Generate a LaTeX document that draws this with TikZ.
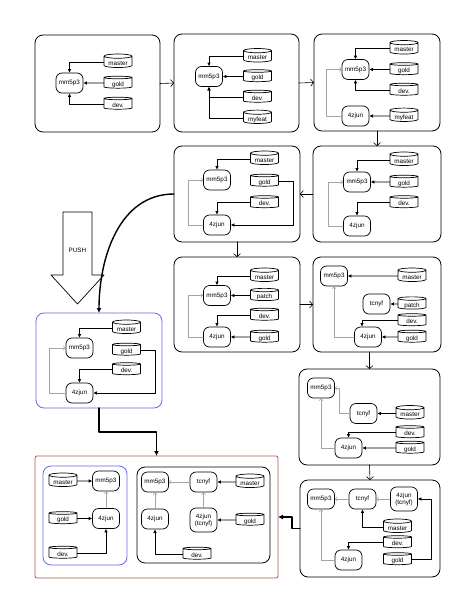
\documentclass[tikz,border=0pt]{standalone}
\usepackage{fontspec}
\setmainfont{Liberation Sans}
\usetikzlibrary{arrows.meta, shapes.geometric, fit}
\definecolor{azul}{RGB}{102,102,230}
\definecolor{rojo}{RGB}{184,84,80}
\definecolor{gris}{RGB}{165,165,165}
\begin{document}
\begin{tikzpicture}[x=1pt, y=-1pt, line cap=round, line join=round,
    font=\fontsize{6.3}{7.2}\selectfont,
    panel/.style={draw, rounded corners=8pt, line width=0.8pt, inner sep=0pt, outer sep=0pt},
    commit/.style={draw, rounded corners=6pt, minimum width=27pt, minimum height=20pt,
      inner sep=1pt, line width=0.7pt, align=center},
    rama/.style={draw, cylinder, shape border rotate=90, aspect=0.22, minimum width=28pt,
      minimum height=12pt, inner sep=0pt, text height=6.8pt, text depth=0pt, line width=0.7pt},
    flecha/.style={line width=0.8pt, -{Latex[length=3.5pt,width=3.5pt]}},
    padre/.style={gris, line width=0.6pt, -{Straight Barb[length=2pt,width=4pt]}},
    paso/.style={line width=0.6pt, -{Straight Barb[length=3pt,width=7pt]}},
    empuje/.style={line width=1.4pt, -{Latex[length=5pt,width=5pt]}}]
  \useasboundingbox (0,0) rectangle (474,613);
  % primer paso
  \node[panel, fit={(35,35) (160,132)}] (p1) {};
  \node[commit] (mm1) at (69.5,83) {mm5p3};
  \node[rama] (ma1) at (118,62) {master};
  \node[rama] (go1) at (118,83) {gold};
  \node[rama] (de1) at (118,104) {dev.};
  \draw[flecha] (ma1.west) -| (mm1.north);
  \draw[flecha] (go1.west) -- (mm1.east);
  \draw[flecha] (de1.west) -| (mm1.south);
  % con myfeat
  \node[panel, fit={(174,34) (299,132)}] (p2) {};
  \node[commit] (mm2) at (209,76.5) {mm5p3};
  \node[rama] (ma2) at (257.5,56.5) {master};
  \node[rama] (go2) at (257.5,76.5) {gold};
  \node[rama] (de2) at (257.5,97) {dev.};
  \node[rama] (my2) at (257.5,118) {myfeat};
  \draw[flecha] (ma2.west) -| (mm2.north);
  \draw[flecha] (go2.west) -- (mm2.east);
  \draw[flecha] (de2.west) -| (mm2.south);
  \draw[flecha] (my2.west) -| (mm2.south);
  % el commit 4zjun en myfeat
  \node[panel, fit={(314,34) (440,131)}] (p3) {};
  \node[commit] (mm3) at (355.5,69.5) {mm5p3};
  \node[commit] (zj3) at (355.5,116) {4zjun};
  \node[rama] (ma3) at (404,48.5) {master};
  \node[rama] (go3) at (404,69.5) {gold};
  \node[rama] (de3) at (404,90) {dev.};
  \node[rama] (my3) at (404,116) {myfeat};
  \draw[flecha] (ma3.west) -| (mm3.north);
  \draw[flecha] (go3.west) -- (mm3.east);
  \draw[flecha] (de3.west) -| (mm3.south);
  \draw[flecha] (my3.west) -- (zj3.east);
  \draw[padre] (zj3.west) -- ++(-15,0) |- (mm3.west);
  % dev. pasa a 4zjun
  \node[panel, fit={(313,146) (441,242)}] (p4) {};
  \node[commit] (mm4) at (357,182) {mm5p3};
  \node[commit] (zj4) at (357,226) {4zjun};
  \node[rama] (ma4) at (404,160) {master};
  \node[rama] (go4) at (404,182) {gold};
  \node[rama] (de4) at (404,202.5) {dev.};
  \draw[flecha] (ma4.west) -| (mm4.north);
  \draw[flecha] (go4.west) -- (mm4.east);
  \draw[flecha] (de4.west) -| (zj4.north);
  \draw[padre] (zj4.west) -- ++(-15,0) |- (mm4.west);
  % gold pasa a 4zjun
  \node[panel, fit={(174,146) (300,242)}] (p5) {};
  \node[commit] (mm5) at (217,180) {mm5p3};
  \node[commit] (zj5) at (217,225) {4zjun};
  \node[rama] (ma5) at (264.5,159) {master};
  \node[rama] (go5) at (264.5,181) {gold};
  \node[rama] (de5) at (264.5,202.5) {dev.};
  \draw[flecha] (ma5.west) -| (mm5.north);
  \draw[flecha] (go5.east) -- ++(15,0) |- (zj5.east);
  \draw[flecha] (de5.west) -| (zj5.north);
  \draw[padre] (zj5.west) -- ++(-15,0) |- (mm5.west);
  % la rama patch
  \node[panel, fit={(174,257) (300,352)}] (p6) {};
  \node[commit] (mm6) at (217,295.5) {mm5p3};
  \node[commit] (zj6) at (217,337) {4zjun};
  \node[rama] (ma6) at (264.5,276) {master};
  \node[rama] (pa6) at (264.5,295.5) {patch};
  \node[rama] (de6) at (264.5,315) {dev.};
  \node[rama] (go6) at (264.5,337) {gold};
  \draw[flecha] (ma6.west) -| (mm6.north);
  \draw[flecha] (pa6.west) -- (mm6.east);
  \draw[flecha] (de6.west) -| (zj6.north);
  \draw[flecha] (go6.west) -- (zj6.east);
  \draw[padre] (zj6.west) -- ++(-15,0) |- (mm6.west);
  % tcnyf en patch
  \node[panel, fit={(313,257) (441,352)}] (p7) {};
  \node[commit] (mm7) at (334,276) {mm5p3};
  \node[commit] (tc7) at (376.5,304) {tcnyf};
  \node[commit] (zj7) at (368,337) {4zjun};
  \node[rama] (ma7) at (412,276) {master};
  \node[rama] (pa7) at (412,304) {patch};
  \node[rama] (de7) at (412,320.5) {dev.};
  \node[rama] (go7) at (412,337) {gold};
  \draw[flecha] (ma7.west) -- (mm7.east);
  \draw[flecha] (pa7.west) -- (tc7.east);
  \draw[flecha] (de7.west) -| ([xshift=-6pt]zj7.north);
  \draw[flecha] (go7.west) -- (zj7.east);
  \draw[padre] (zj7.west) -| (mm7.south);
  % master en tcnyf
  \node[panel, fit={(299,369) (440,465)}] (p8) {};
  \node[commit] (mm8) at (321,388) {mm5p3};
  \node[commit] (tc8) at (363.5,413.5) {tcnyf};
  \node[commit] (zj8) at (348.5,448) {4zjun};
  \node[rama] (ma8) at (410,413.5) {master};
  \node[rama] (de8) at (410,432.5) {dev.};
  \node[rama] (go8) at (410,448) {gold};
  \draw[flecha] (ma8.west) -- (tc8.east);
  \draw[flecha] (de8.west) -| (zj8.north);
  \draw[flecha] (go8.west) -- (zj8.east);
  \draw[padre] (tc8.west) -- ++(-10,0) |- (mm8.east);
  \draw[padre] (zj8.west) -| (mm8.south);
  % 4zjun copiado sobre tcnyf
  \node[panel, fit={(300,480) (440,577)}] (p9) {};
  \node[commit] (mm9) at (321,499) {mm5p3};
  \node[commit] (tc9) at (362.5,499) {tcnyf};
  \node[commit, minimum height=24pt] (zt9) at (404,499) {4zjun\\(tcnyf)};
  \node[commit] (zj9) at (348.5,560) {4zjun};
  \node[rama] (ma9) at (397.5,527) {master};
  \node[rama] (de9) at (397.5,542.5) {dev.};
  \node[rama] (go9) at (397.5,559.5) {gold};
  \draw[padre] (tc9.west) -- (mm9.east);
  \draw[padre] (zt9.west) -- (tc9.east);
  \draw[flecha] (ma9.west) -| (tc9.south);
  \draw[flecha] (de9.west) -| (zj9.north);
  \draw[flecha] (go9.east) -- ++(20,0) |- (zt9.east);
  \draw[padre] (zj9.west) -| (mm9.south);
  % lo que se sube
  \node[panel, draw=azul, fit={(36,313) (162,408)}] (pb) {};
  \node[commit] (mmb) at (79.5,348) {mm5p3};
  \node[commit] (zjb) at (79.5,393) {4zjun};
  \node[rama] (mab) at (126.5,328) {master};
  \node[rama] (gob) at (126.5,350) {gold};
  \node[rama] (deb) at (126.5,369.5) {dev.};
  \draw[flecha] (mab.west) -| (mmb.north);
  \draw[flecha] (gob.east) -- ++(15,0) |- (zjb.east);
  \draw[flecha] (deb.west) -| (zjb.north);
  \draw[padre] (zjb.west) -- ++(-16,0) |- (mmb.west);
  % el resultado, con los dos lados
  \node[panel, draw=rojo, rounded corners=2pt, fit={(35,456) (278,578)}] (pr) {};
  \node[panel, draw=azul, fit={(43,466) (127,565)}] (prb) {};
  \node[panel, fit={(137,467) (270,563)}] (prn) {};
  \node[commit] (mmr) at (106,481) {mm5p3};
  \node[commit] (zjr) at (106,518.5) {4zjun};
  \node[rama] (mar) at (63,481) {master};
  \node[rama] (gor) at (63,518.5) {gold};
  \node[rama] (der) at (63,553) {dev.};
  \draw[flecha] (mar.east) -- (mmr.west);
  \draw[flecha] (gor.east) -- (zjr.west);
  \draw[flecha] (der.east) -| (zjr.south);
  \draw[padre] (zjr.north) -- (mmr.south);
  \node[commit] (mms) at (155,482) {mm5p3};
  \node[commit] (tcs) at (203.5,482) {tcnyf};
  \node[commit] (zjs) at (155,519) {4zjun};
  \node[commit, minimum height=24pt] (zts) at (203.5,520) {4zjun\\(tcnyf)};
  \node[rama] (mas) at (250,482) {master};
  \node[rama] (gos) at (250,520) {gold};
  \node[rama] (des) at (197,554) {dev.};
  \draw[padre] (tcs.west) -- (mms.east);
  \draw[flecha] (mas.west) -- (tcs.east);
  \draw[padre] (zts.north) -- (tcs.south);
  \draw[flecha] (gos.west) -- (zts.east);
  \draw[padre] (zjs.north) -- (mms.south);
  \draw[flecha] (des.west) -| (zjs.south);
  % la flecha grande de push
  \draw[line width=0.7pt] (63,212) -- (92,212) -- (92,275) -- (104,275) -- (77.5,304)
    -- (51,275) -- (63,275) -- cycle;
  \node (push) at (77.5,250) {PUSH};
  % pasos entre paneles
  \draw[paso] (p1.east) -- (p2.west);
  \draw[paso] (p2.east) -- (p3.west);
  \draw[paso] (p3.south) -- (p4.north);
  \draw[paso] (p4.west) -- (p5.east);
  \draw[paso] (p5.south) -- (p6.north);
  \draw[paso] (p6.east) -- (p7.west);
  \draw[paso] (p8.north |- p7.south) -- (p8.north);
  \draw[paso] (p8.south) -- (p9.north);
  % las flechas gruesas
  \draw[empuje] (p5.west) to[out=180, in=90] (pb.north);
  \draw[empuje] (pb.south) -- ++(0,24) -| (pr.north);
  \draw[empuje] (p9.west) -- ++(-8,0) |- (pr.east);
\end{tikzpicture}
\end{document}
